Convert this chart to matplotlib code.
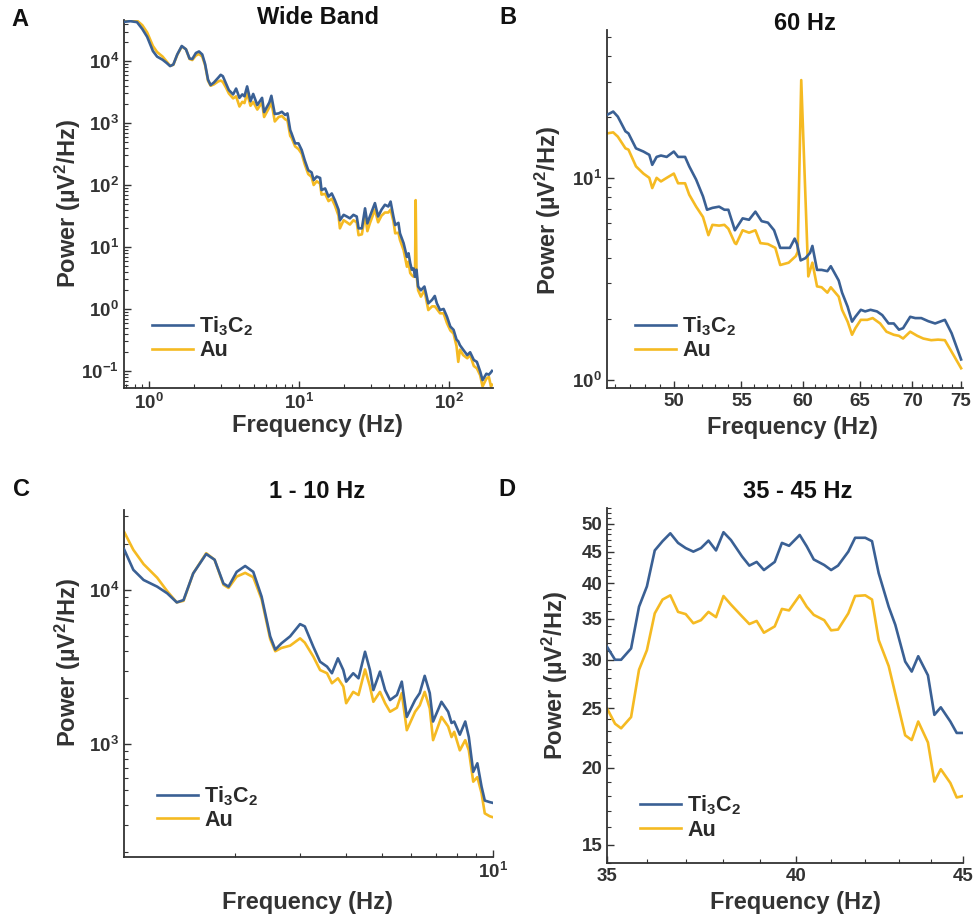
import numpy as np
import matplotlib
matplotlib.use("Agg")
import matplotlib.pyplot as plt
from matplotlib.ticker import FixedLocator, FuncFormatter, NullFormatter

plt.rcParams['font.family'] = ['Liberation Sans', 'DejaVu Sans']
plt.rcParams['font.weight'] = 'bold'
plt.rcParams['axes.labelweight'] = 'bold'
plt.rcParams['mathtext.fontset'] = 'custom'
plt.rcParams['mathtext.bf'] = 'Liberation Sans:bold'
plt.rcParams['mathtext.rm'] = 'Liberation Sans:bold'
plt.rcParams['mathtext.it'] = 'Liberation Sans:bold'
plt.rcParams['mathtext.default'] = 'bf'

BLUE = '#3A6094'
GOLD = '#F5BA22'
INK = '#333333'

# --- A: wide band ---
wide_freq = [0.68, 0.75, 0.83, 0.90, 0.97, 1.06, 1.13, 1.23, 1.31, 1.38,
             1.45, 1.54, 1.65, 1.76, 1.86, 1.94, 2.05, 2.15, 2.26, 2.36,
             2.47, 2.57, 2.70, 2.89, 3.0, 3.1, 3.26, 3.4, 3.63, 3.8,
             4.0, 4.18, 4.32, 4.5, 4.74, 4.94, 5.26, 5.66, 5.84, 6.33,
             6.53, 6.88, 7.3, 7.67, 8.07, 8.36, 8.72, 8.9, 9.4, 9.9,
             10.4, 10.9, 11.5, 12.1, 12.5, 13.1, 13.8, 14.1, 14.9, 15.7,
             16.5, 17.3, 18.3, 18.7, 19.8, 20.8, 21.8, 23.0, 24.2, 24.9,
             26.2, 27.5, 28.5, 29.6, 32.0, 33.6, 35.4, 37.3, 39.3, 40.7,
             42.5, 43.7, 45.9, 47.0, 49.7, 52.3, 53.6, 55.0, 56.4, 58.0,
             59.2, 59.8, 60.6, 62.1, 64.8, 68.4, 72.6, 76.9, 80.2, 82.8,
             87.0, 91.8, 96.7, 101.8, 107, 112, 115, 118, 124, 132,
             138, 146, 153, 161, 167, 177, 184, 190, 193]
wide_ti = [43000, 44000, 42500, 33000, 24600, 14500, 11800, 10500, 9300, 8300,
           8800, 12800, 17500, 15500, 11000, 10800, 13500, 14300, 12800, 9000,
           5000, 4100, 4500, 5400, 6000, 5700, 4300, 3400, 2900, 3600,
           2550, 2900, 2700, 3900, 2250, 2950, 1950, 2550, 1500, 2150,
           2750, 1400, 1430, 1520, 1350, 1430, 770, 680, 470, 470,
           367, 250, 173, 160, 120, 137, 130, 83, 88, 65,
           73, 57, 40, 27, 33, 31, 29, 33, 31, 20,
           20, 42, 24, 31, 51, 31, 40, 48, 45, 54,
           31, 22.6, 24.5, 16.6, 11.5, 6.9, 7.9, 5.5, 4.3, 4.5,
           3.3, 3.9, 4.3, 2.3, 2.0, 2.3, 1.23, 1.4, 1.62, 1.23,
           0.96, 1.0, 0.75, 0.52, 0.46, 0.32, 0.30, 0.26, 0.22, 0.18,
           0.2, 0.15, 0.14, 0.098, 0.071, 0.09, 0.087, 0.095, 0.1]
wide_au = [45000, 46500, 45000, 38000, 29000, 17500, 14000, 11800, 9800, 8400,
           8700, 12600, 17200, 15500, 10800, 10400, 12300, 13000, 11800, 8600,
           4800, 4000, 4200, 4700, 4850, 4600, 3700, 3000, 2500, 2700,
           1850, 2200, 2100, 3050, 1900, 2200, 1650, 2150, 1250, 1800,
           2200, 1060, 1250, 1300, 1150, 1100, 620, 580, 420, 380,
           320, 215, 150, 135, 100, 115, 105, 70, 72, 55,
           60, 47, 32, 20, 27, 25, 23, 27, 25, 15.5,
           16, 33, 18, 24, 40, 25, 32, 36, 36, 40,
           26, 16.6, 17, 13, 8.9, 4.8, 5.8, 3.8, 3.5, 3.3,
           3.4, 57, 3.6, 2.0, 1.58, 2.0, 0.96, 1.1, 1.1, 1.0,
           0.85, 0.85, 0.59, 0.45, 0.40, 0.25, 0.14, 0.22, 0.18, 0.16,
           0.18, 0.12, 0.11, 0.085, 0.056, 0.075, 0.08, 0.056, 0.06]

# --- B: 60 Hz ---
hz60_freq = [45.5, 45.9, 46.2, 46.7, 46.9, 47.4, 47.9, 48.3, 48.5, 48.8,
             49.1, 49.5, 50.0, 50.3, 50.8, 51.1, 51.6, 52.1, 52.4, 52.8,
             53.3, 53.7, 54.0, 54.5, 55.1, 55.6, 56.1, 56.6, 57.1, 57.6,
             58.1, 58.5, 58.9, 59.3, 59.5, 59.8, 60.2, 60.6, 60.8, 61.2,
             61.6, 62.1, 62.4, 63.1, 63.4, 63.9, 64.3, 64.6, 65.1, 65.5,
             66.0, 66.6, 67.1, 67.7, 68.2, 68.7, 69.1, 69.8, 70.3, 70.9,
             71.6, 72.3, 73.3, 74.0, 75.0]
hz60_ti = [20.5, 21.3, 20.1, 17.0, 16.6, 14.0, 13.5, 13.0, 11.6, 12.7,
           12.9, 12.7, 13.5, 12.7, 12.7, 11.4, 9.8, 8.1, 6.95, 7.1,
           7.2, 6.95, 6.95, 5.5, 6.3, 6.2, 6.8, 6.1, 6.0, 5.5,
           4.5, 4.5, 4.5, 5.0, 4.7, 3.9, 4.0, 4.25, 4.6, 3.5,
           3.5, 3.45, 3.65, 3.1, 2.7, 2.3, 1.94, 2.05, 2.22, 2.18,
           2.22, 2.18, 2.09, 1.9, 1.9, 1.77, 1.8, 2.05, 2.02, 2.02,
           1.95, 1.9, 1.98, 1.70, 1.26]
hz60_au_freq = [45.5, 45.9, 46.2, 46.7, 46.9, 47.4, 47.9, 48.3, 48.5, 48.8,
                49.1, 49.5, 50.0, 50.3, 50.8, 51.1, 51.6, 52.1, 52.5, 52.8,
                53.3, 53.7, 54.0, 54.5, 54.6, 55.1, 55.6, 56.1, 56.5, 57.1,
                57.7, 58.1, 58.8, 59.4, 59.55, 59.85, 60.45, 60.8,
                61.2, 61.6, 62.1, 62.4, 63.1, 63.4, 63.9, 64.3, 64.6, 65.1,
                65.7, 66.2, 66.9, 67.5, 68.2, 68.7, 69.1, 69.8, 70.5, 71.1,
                71.9, 72.6, 73.3, 74.1, 75.0]
hz60_au = [16.6, 16.8, 16.0, 14.0, 13.8, 11.4, 10.5, 10.0, 8.9, 10.0,
           9.6, 10.0, 10.5, 9.4, 9.4, 8.25, 7.2, 6.4, 5.2, 5.85,
           5.8, 5.85, 5.6, 4.75, 4.7, 5.5, 5.35, 5.5, 4.75, 4.7,
           4.5, 3.7, 3.8, 4.1, 4.3, 30.5, 3.25, 3.8,
           2.9, 2.87, 2.7, 2.87, 2.58, 2.22, 1.94, 1.67, 1.8, 1.98,
           1.98, 2.02, 1.9, 1.73, 1.67, 1.65, 1.6, 1.73, 1.65, 1.6,
           1.57, 1.58, 1.57, 1.35, 1.14]

# --- C: 1 - 10 Hz ---
low_freq = [1.0, 1.06, 1.13, 1.23, 1.31, 1.39, 1.45, 1.54, 1.67, 1.76,
            1.86, 1.92, 2.02, 2.13, 2.24, 2.36, 2.49, 2.57, 2.67, 2.82,
            3.0, 3.09, 3.26, 3.4, 3.55, 3.66, 3.8, 3.93, 4.0, 4.18,
            4.32, 4.5, 4.64, 4.74, 4.94, 5.1, 5.26, 5.49, 5.66, 5.84,
            6.15, 6.33, 6.53, 6.74, 6.88, 7.25, 7.56, 7.72, 7.85, 8.13,
            8.41, 8.6, 8.84, 9.07, 9.31, 9.5, 9.8, 10.0]
low_ti = [18400, 13500, 11600, 10500, 9500, 8300, 8600, 12800, 17100, 15700,
          11000, 10500, 13100, 14300, 13100, 9050, 5000, 4100, 4500, 5000,
          6000, 5800, 4270, 3420, 3180, 2880, 3600, 3020, 2540, 2880,
          2670, 3970, 3020, 2240, 2950, 2240, 1930, 2080, 2540, 1500,
          1930, 2140, 2770, 2140, 1400, 1880, 1620, 1370, 1400, 1150,
          1400, 1110, 660, 750, 530, 430, 420, 415]
low_au = [23900, 18200, 14700, 12000, 9800, 8300, 8500, 12800, 17300, 15700,
          10800, 10300, 12200, 12900, 12100, 8700, 4800, 4000, 4200, 4350,
          4850, 4550, 3690, 3020, 2880, 2480, 2670, 2360, 1840, 2180,
          2080, 3050, 2360, 1880, 2180, 1840, 1620, 1720, 2140, 1230,
          1620, 1780, 2180, 1700, 1060, 1500, 1300, 1110, 1200, 910,
          1060, 910, 570, 610, 480, 355, 340, 335]

# --- D: 35 - 45 Hz ---
gamma_freq = [35.0, 35.2, 35.35, 35.6, 35.8, 36.0, 36.2, 36.4, 36.6, 36.8,
              37.0, 37.2, 37.4, 37.6, 37.8, 38.0, 38.2, 38.5, 38.7, 38.9,
              39.1, 39.4, 39.6, 39.8, 40.1, 40.3, 40.5, 40.8, 41.0, 41.2,
              41.5, 41.7, 42.0, 42.2, 42.4, 42.7, 42.9, 43.2, 43.4, 43.6,
              43.9, 44.1, 44.3, 44.6, 44.8, 45.0]
gamma_ti = [31.5, 30.0, 30.0, 31.3, 36.6, 39.5, 45.2, 46.8, 48.2, 46.5,
            45.6, 45.0, 45.6, 46.9, 45.2, 48.4, 47.0, 44.2, 42.7, 43.3,
            42.0, 43.3, 46.5, 46.0, 47.9, 45.9, 43.7, 42.8, 42.0, 42.7,
            45.0, 47.4, 47.4, 46.8, 41.5, 36.6, 34.2, 29.8, 28.7, 30.4,
            28.3, 24.4, 25.1, 23.8, 22.8, 22.8]
gamma_au = [25.0, 23.6, 23.2, 24.2, 28.9, 31.1, 35.7, 37.6, 38.2, 35.9,
            35.6, 34.4, 34.8, 35.9, 35.2, 38.1, 36.9, 35.3, 34.3, 34.7,
            33.2, 34.0, 36.3, 36.1, 38.2, 36.6, 35.5, 34.8, 33.5, 33.6,
            35.7, 38.1, 38.2, 37.6, 32.3, 29.3, 26.4, 22.6, 22.2, 23.8,
            22.0, 19.0, 19.9, 18.9, 17.9, 18.0]

LABEL_TI = r'Ti$_3$C$_2$'
LABEL_AU = 'Au'
YLABEL = r'Power (µV$^2$/Hz)'
XLABEL = 'Frequency (Hz)'


def pow10(v, pos):
    return r'$10^{%d}$' % int(round(np.log10(v)))


def style(ax):
    ax.spines['top'].set_visible(False)
    ax.spines['right'].set_visible(False)
    for s in ('left', 'bottom'):
        ax.spines[s].set_color(INK)
        ax.spines[s].set_linewidth(1.3)
    ax.tick_params(which='both', direction='in', color=INK, labelcolor=INK)
    ax.tick_params(which='major', length=5, width=1.0, labelsize=13.5)
    ax.tick_params(which='minor', length=3, width=0.8)
    ax.xaxis.set_minor_formatter(NullFormatter())
    ax.yaxis.set_minor_formatter(NullFormatter())


def labels(ax, xl, yl):
    ax.set_xlabel(XLABEL, fontsize=17, fontweight='bold', color=INK, va='center')
    ax.xaxis.set_label_coords(*xl)
    ax.set_ylabel(YLABEL, fontsize=17, fontweight='bold', color=INK, va='center')
    ax.yaxis.set_label_coords(*yl)


fig = plt.figure(figsize=(9.75, 9.18), dpi=100)
W, H = 975.0, 918.0


def box(l, t, r, b):
    return [l / W, 1 - b / H, (r - l) / W, (b - t) / H]


axA = fig.add_axes(box(124, 20, 493, 388))
axB = fig.add_axes(box(607, 30, 963, 388))
axC = fig.add_axes(box(124, 510, 493, 857))
axD = fig.add_axes(box(607, 508, 963, 863))

lw = 1.9

# A
axA.plot(wide_freq, wide_au, color=GOLD, lw=lw, label=LABEL_AU, zorder=2)
axA.plot(wide_freq, wide_ti, color=BLUE, lw=lw, label=LABEL_TI, zorder=3)
axA.set_xscale('log')
axA.set_yscale('log')
axA.set_xlim(0.68, 196)
axA.set_ylim(0.053, 46000)
style(axA)
axA.xaxis.set_major_locator(FixedLocator([1, 10, 100]))
axA.xaxis.set_major_formatter(FuncFormatter(pow10))
axA.xaxis.set_minor_locator(FixedLocator([m * 10.0 ** e for e in (-1, 0, 1, 2) for m in range(2, 10)]))
axA.yaxis.set_major_locator(FixedLocator([0.1, 1, 10, 100, 1e3, 1e4]))
axA.yaxis.set_major_formatter(FuncFormatter(pow10))
axA.yaxis.set_minor_locator(FixedLocator([m * 10.0 ** e for e in range(-2, 5) for m in range(2, 10)]))
labels(axA, (0.523, -0.102), (-0.152, 0.5))

# B
axB.plot(hz60_au_freq, hz60_au, color=GOLD, lw=lw, label=LABEL_AU, zorder=2)
axB.plot(hz60_freq, hz60_ti, color=BLUE, lw=lw, label=LABEL_TI, zorder=3)
axB.set_xscale('log')
axB.set_yscale('log')
axB.set_xlim(45.5, 75.2)
axB.set_ylim(0.91, 54)
style(axB)
axB.xaxis.set_major_locator(FixedLocator([50, 55, 60, 65, 70, 75]))
axB.xaxis.set_major_formatter(FuncFormatter(lambda v, p: '%d' % v))
axB.xaxis.set_minor_locator(FixedLocator([f for f in range(46, 76) if f % 5]))
axB.yaxis.set_major_locator(FixedLocator([1, 10]))
axB.yaxis.set_major_formatter(FuncFormatter(pow10))
axB.yaxis.set_minor_locator(FixedLocator([2, 3, 4, 5, 6, 7, 8, 9, 20, 30, 40, 50]))
labels(axB, (0.522, -0.109), (-0.166, 0.497))

# C
axC.plot(low_freq, low_au, color=GOLD, lw=lw, label=LABEL_AU, zorder=2)
axC.plot(low_freq, low_ti, color=BLUE, lw=lw, label=LABEL_TI, zorder=3)
axC.set_xscale('log')
axC.set_yscale('log')
axC.set_xlim(1, 10)
axC.set_ylim(185, 33000)
style(axC)
axC.xaxis.set_major_locator(FixedLocator([10]))
axC.xaxis.set_major_formatter(FuncFormatter(pow10))
axC.xaxis.set_minor_locator(FixedLocator(list(range(2, 10))))
axC.yaxis.set_major_locator(FixedLocator([1e3, 1e4]))
axC.yaxis.set_major_formatter(FuncFormatter(pow10))
axC.yaxis.set_minor_locator(FixedLocator([m * 10.0 ** e for e in (2, 3, 4) for m in range(2, 10)]))
labels(axC, (0.496, -0.13), (-0.152, 0.56))

# D
axD.plot(gamma_freq, gamma_au, color=GOLD, lw=lw, label=LABEL_AU, zorder=2)
axD.plot(gamma_freq, gamma_ti, color=BLUE, lw=lw, label=LABEL_TI, zorder=3)
axD.set_xscale('log')
axD.set_yscale('log')
axD.set_xlim(35, 45)
axD.set_ylim(14, 53)
style(axD)
axD.xaxis.set_major_locator(FixedLocator([35, 40, 45]))
axD.xaxis.set_major_formatter(FuncFormatter(lambda v, p: '%d' % v))
axD.xaxis.set_minor_locator(FixedLocator([36, 37, 38, 39, 41, 42, 43, 44]))
axD.yaxis.set_major_locator(FixedLocator([15, 20, 25, 30, 35, 40, 45, 50]))
axD.yaxis.set_major_formatter(FuncFormatter(lambda v, p: '%d' % v))
axD.yaxis.set_minor_locator(FixedLocator([v for v in range(14, 54) if v % 5]))
labels(axD, (0.528, -0.11), (-0.146, 0.527))

for ax, anchor in ((axA, (0.076, 0.20)), (axB, (0.079, 0.205)),
                   (axC, (0.089, 0.21)), (axD, (0.093, 0.195))):
    h, l = ax.get_legend_handles_labels()
    ax.legend(h[::-1], l[::-1], loc='upper left', bbox_to_anchor=anchor,
              frameon=False, borderpad=0, borderaxespad=0, handlelength=1.9,
              handletextpad=0.3, labelspacing=0.1,
              prop={'size': 15.5, 'weight': 'bold'}, labelcolor='#2a2a2a')

# titles and panel letters
for txt, x, y in (('Wide Band', 318, 18), ('60 Hz', 805, 23),
                  ('1 - 10 Hz', 317, 492), ('35 - 45 Hz', 798, 492)):
    fig.text(x / W, 1 - y / H, txt, ha='center', va='center',
             fontsize=17, fontweight='bold', color='#111111')
for txt, x, y in (('A', 20, 19), ('B', 508, 18), ('C', 22, 489), ('D', 507, 490)):
    fig.text(x / W, 1 - y / H, txt, ha='center', va='center',
             fontsize=17, fontweight='bold', color='#111111')

fig.savefig('out.png', dpi=100)
